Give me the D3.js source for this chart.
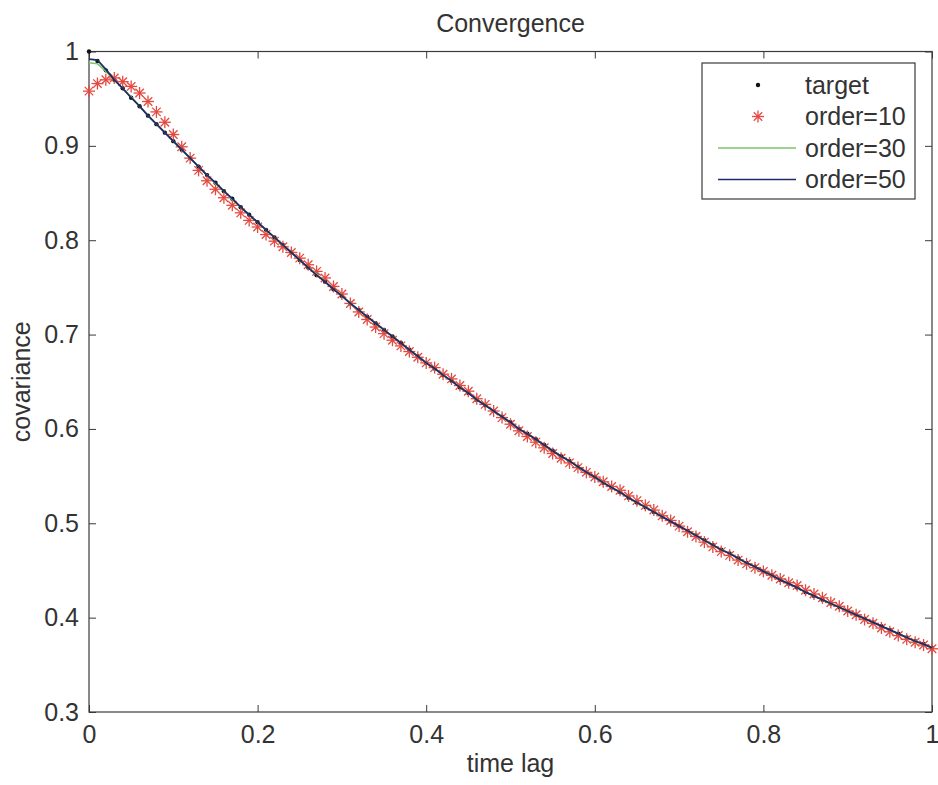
<!DOCTYPE html>
<html>
<head>
<meta charset="utf-8">
<script src="https://cdn.jsdelivr.net/npm/d3@7"></script>
<style>
  body { margin: 0; background: #fff; }
  text { font-family: "Liberation Sans", Arial, sans-serif; fill: #333; }
</style>
</head>
<body>
<svg id="chart" width="938" height="785"></svg>
<script>
// ---- data (lag step 0.01) ----
var lags = d3.range(0, 101).map(function(i) { return i / 100; });

var target = [1.000, .990, .980, .970, .961, .951, .942, .932, .923, .914,
  .905, .896, .887, .878, .869, .861, .852, .844, .835, .827,
  .819, .811, .803, .795, .787, .779, .771, .763, .756, .748,
  .741, .733, .726, .719, .712, .705, .698, .691, .684, .677,
  .670, .664, .657, .651, .644, .638, .631, .625, .619, .613,
  .607, .600, .595, .589, .583, .577, .571, .566, .560, .554,
  .549, .543, .538, .533, .527, .522, .517, .512, .507, .502,
  .497, .492, .487, .482, .477, .472, .468, .463, .458, .454,
  .449, .445, .440, .436, .432, .427, .423, .419, .415, .411,
  .407, .403, .399, .395, .391, .387, .383, .379, .375, .372, .368];

var order10 = [.958, .966, .970, .972, .968, .963, .956, .947, .936, .925,
  .912, .899, .887, .874, .863, .854, .845, .837, .829, .821,
  .814, .806, .799, .793, .787, .781, .774, .767, .760, .751,
  .743, .733, .724, .716, .708, .701, .694, .688, .682, .676,
  .670, .665, .658, .653, .646, .640, .632, .626, .619, .612,
  .605, .598, .592, .586, .580, .574, .569, .564, .559, .554,
  .549, .544, .539, .535, .529, .524, .519, .514, .508, .503,
  .497, .491, .486, .480, .475, .470, .466, .461, .457, .453,
  .449, .445, .441, .437, .434, .429, .425, .421, .416, .412,
  .407, .403, .398, .394, .389, .385, .381, .377, .374, .371, .367];

var order30 = [.988, .987, .979, .970, .961, .952, .942, .932, .923, .914,
  .905, .896, .887, .878, .869, .860, .852, .843, .835, .827,
  .819, .811, .803, .795, .787, .779, .771, .764, .756, .748,
  .741, .733, .726, .719, .712, .705, .698, .691, .684, .677,
  .670, .664, .657, .651, .644, .638, .631, .625, .619, .613,
  .607, .600, .595, .589, .583, .577, .571, .566, .560, .554,
  .549, .543, .538, .533, .527, .522, .517, .512, .507, .502,
  .497, .492, .487, .482, .477, .472, .468, .463, .458, .454,
  .449, .445, .440, .436, .432, .427, .423, .419, .415, .411,
  .407, .403, .399, .395, .391, .387, .383, .379, .375, .372, .368];

var order50 = [.992, .991, .981, .970, .961, .951, .942, .932, .923, .914,
  .905, .896, .887, .878, .869, .861, .852, .844, .835, .827,
  .819, .811, .803, .795, .787, .779, .771, .763, .756, .748,
  .741, .733, .726, .719, .712, .705, .698, .691, .684, .677,
  .670, .664, .657, .651, .644, .638, .631, .625, .619, .613,
  .607, .600, .595, .589, .583, .577, .571, .566, .560, .554,
  .549, .543, .538, .533, .527, .522, .517, .512, .507, .502,
  .497, .492, .487, .482, .477, .472, .468, .463, .458, .454,
  .449, .445, .440, .436, .432, .427, .423, .419, .415, .411,
  .407, .403, .399, .395, .391, .387, .383, .379, .375, .372, .368];

var xTicks = [0, 0.2, 0.4, 0.6, 0.8, 1];
var yTicks = [0.3, 0.4, 0.5, 0.6, 0.7, 0.8, 0.9, 1];
var legendNames = ["target", "order=10", "order=30", "order=50"];

// ---- layout ----
var svg = d3.select("#chart"),
    margin = {top: 51.5, right: 6, bottom: 73, left: 89},
    width = +svg.attr("width") - margin.left - margin.right,
    height = +svg.attr("height") - margin.top - margin.bottom,
    g = svg.append("g").attr("transform", "translate(" + margin.left + "," + margin.top + ")");

var x = d3.scaleLinear().domain([0, 1]).range([0, width]);
var y = d3.scaleLinear().domain([0.3, 1]).range([height, 0]);

var axisColor = "#3a3a3a";
var fontSize = 25;
var fmt = function(d) { return d3.format("")(d); };

// axes with inward ticks on all four sides (matlab box)
function styleAxis(sel) {
  sel.select(".domain").remove();
  sel.selectAll(".tick line").attr("stroke", axisColor);
  sel.selectAll(".tick text").attr("font-size", fontSize).attr("fill", "#333")
    .attr("font-family", "Liberation Sans, Arial, sans-serif");
}

g.append("g")
    .attr("transform", "translate(0," + height + ")")
    .call(d3.axisBottom(x).tickValues(xTicks).tickFormat(fmt).tickSizeInner(-7).tickPadding(13))
    .call(styleAxis);

g.append("g")
    .call(d3.axisTop(x).tickValues(xTicks).tickSizeInner(-7).tickFormat(""))
    .call(styleAxis);

g.append("g")
    .call(d3.axisLeft(y).tickValues(yTicks).tickFormat(fmt).tickSizeInner(-7).tickPadding(10))
    .call(styleAxis);

g.append("g")
    .attr("transform", "translate(" + width + ",0)")
    .call(d3.axisRight(y).tickValues(yTicks).tickSizeInner(-7).tickFormat(""))
    .call(styleAxis);

g.append("rect")
    .attr("width", width)
    .attr("height", height)
    .attr("fill", "none")
    .attr("stroke", axisColor)
    .attr("stroke-width", 1.2);

// ---- series ----
var rows = lags.map(function(t, i) {
  return {t: t, target: target[i], o10: order10[i], o30: order30[i], o50: order50[i]};
});

// target: black dots
g.append("g").selectAll("circle")
    .data(rows)
    .enter().append("circle")
      .attr("cx", function(d) { return x(d.t); })
      .attr("cy", function(d) { return y(d.target); })
      .attr("r", 2.2)
      .attr("fill", "#111");

// order=10: red asterisks
function asterisk(sel, r) {
  [0, 45, 90, 135].forEach(function(a) {
    var rad = a * Math.PI / 180, dx = r * Math.cos(rad), dy = r * Math.sin(rad);
    sel.append("line")
      .attr("x1", -dx).attr("y1", -dy).attr("x2", dx).attr("y2", dy);
  });
}

var stars = g.append("g")
    .attr("stroke", "#e4483e")
    .attr("stroke-width", 1.3)
  .selectAll("g")
  .data(rows)
  .enter().append("g")
    .attr("transform", function(d) { return "translate(" + x(d.t) + "," + y(d.o10) + ")"; });
stars.each(function() { asterisk(d3.select(this), 6); });

var line30 = d3.line().x(function(d) { return x(d.t); }).y(function(d) { return y(d.o30); });
var line50 = d3.line().x(function(d) { return x(d.t); }).y(function(d) { return y(d.o50); });

g.append("path")
    .datum(rows)
    .attr("d", line30)
    .attr("fill", "none")
    .attr("stroke", "#7cc36a")
    .attr("stroke-width", 1.6);

g.append("path")
    .datum(rows)
    .attr("d", line50)
    .attr("fill", "none")
    .attr("stroke", "#1d2c66")
    .attr("stroke-width", 1.8);

// ---- titles ----
svg.append("text")
    .attr("x", margin.left + width / 2)
    .attr("y", 32)
    .attr("text-anchor", "middle")
    .attr("font-size", fontSize)
    .text("Convergence");

svg.append("text")
    .attr("x", margin.left + width / 2)
    .attr("y", 772)
    .attr("text-anchor", "middle")
    .attr("font-size", fontSize)
    .text("time lag");

svg.append("text")
    .attr("transform", "translate(30," + (margin.top + height / 2) + ") rotate(-90)")
    .attr("text-anchor", "middle")
    .attr("font-size", fontSize)
    .text("covariance");

// ---- legend ----
var legend = svg.append("g").attr("transform", "translate(702,63)");
legend.append("rect")
    .attr("width", 213)
    .attr("height", 136)
    .attr("fill", "#fff")
    .attr("stroke", axisColor)
    .attr("stroke-width", 1.2);

var item = legend.selectAll("g.item")
    .data(legendNames)
    .enter().append("g")
      .attr("class", "item")
      .attr("transform", function(d, i) { return "translate(0," + (22 + i * 31.5) + ")"; });

item.append("text")
    .attr("x", 103)
    .attr("dy", "0.35em")
    .attr("font-size", fontSize)
    .text(function(d) { return d; });

item.filter(function(d, i) { return i === 0; })
  .append("circle")
    .attr("cx", 56).attr("r", 2.2).attr("fill", "#111");

item.filter(function(d, i) { return i === 1; })
  .append("g")
    .attr("transform", "translate(56,0)")
    .attr("stroke", "#e4483e")
    .attr("stroke-width", 1.3)
    .each(function() { asterisk(d3.select(this), 6); });

item.filter(function(d, i) { return i >= 2; })
  .append("line")
    .attr("x1", 16).attr("x2", 94)
    .attr("stroke", function(d, i) { return i === 0 ? "#7cc36a" : "#1d2c66"; })
    .attr("stroke-width", 1.6);
</script>
</body>
</html>
